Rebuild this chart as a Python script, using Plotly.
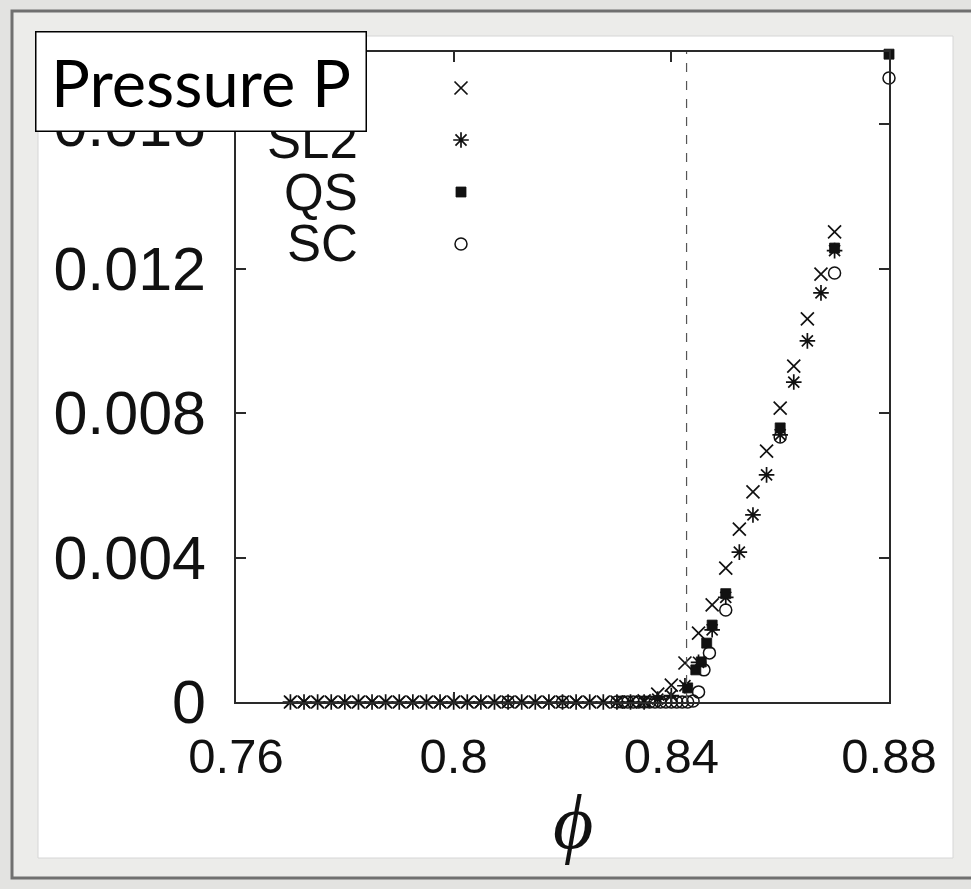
import plotly.graph_objects as go

# ---------------- data ----------------
x_ticks = [0.76, 0.80, 0.84, 0.88]
x_ticktext = ["0.76", "0.8", "0.84", "0.88"]
y_ticks = [0.0, 0.004, 0.008, 0.012, 0.016]
y_ticktext = ["0", "0.004", "0.008", "0.012", "0.016"]

phi_J = 0.8428

sl1_phi = [0.7700, 0.7725, 0.7750, 0.7775, 0.7800, 0.7825, 0.7850, 0.7875, 0.7900,
           0.7925, 0.7950, 0.7975, 0.8000, 0.8025, 0.8050, 0.8075, 0.8100, 0.8125,
           0.8150, 0.8175, 0.8200, 0.8225, 0.8250, 0.8275, 0.8300, 0.8325, 0.8350,
           0.8375, 0.8400, 0.8425, 0.8450, 0.8475, 0.8500, 0.8525, 0.8550, 0.8575,
           0.8600, 0.8625, 0.8650, 0.8675, 0.8700]
sl1_p = [0, 0, 0, 0, 0, 0, 0, 0, 0,
         0, 0, 0, 0, 0, 0, 0, 0, 0,
         0, 0, 0, 0, 0, 0, 0, 0, 0.00003,
         0.00022, 0.00047, 0.00108, 0.00191, 0.00269, 0.00371, 0.00479, 0.00582, 0.00695,
         0.00814, 0.00930, 0.01061, 0.01185, 0.01302]

sl2_phi = [0.7700, 0.7725, 0.7750, 0.7775, 0.7800, 0.7825, 0.7850, 0.7875, 0.7900,
           0.7925, 0.7950, 0.7975, 0.8000, 0.8025, 0.8050, 0.8075, 0.8100, 0.8125,
           0.8150, 0.8175, 0.8200, 0.8225, 0.8250, 0.8275, 0.8300, 0.8325, 0.8350,
           0.8375, 0.8400, 0.8425, 0.8450, 0.8475, 0.8500, 0.8525, 0.8550, 0.8575,
           0.8600, 0.8625, 0.8650, 0.8675, 0.8700]
sl2_p = [0, 0, 0, 0, 0, 0, 0, 0, 0,
         0, 0, 0, 0, 0, 0, 0, 0, 0,
         0, 0, 0, 0, 0, 0, 0, 0, 0,
         0.00008, 0.00018, 0.00045, 0.00110, 0.00200, 0.00290, 0.00415, 0.00518, 0.00629,
         0.00740, 0.00886, 0.01000, 0.01133, 0.01250]

qs_phi = [0.8430, 0.8445, 0.8455, 0.8465, 0.8475, 0.8500, 0.8600, 0.8700, 0.8800]
qs_p = [0.00039, 0.00089, 0.00111, 0.00163, 0.00213, 0.00300, 0.00759, 0.01257, 0.01794]

sc_phi = [0.810, 0.820, 0.830, 0.831, 0.832, 0.833, 0.834, 0.835, 0.836, 0.837,
          0.838, 0.839, 0.840, 0.841, 0.842, 0.843, 0.844, 0.845, 0.846, 0.847,
          0.850, 0.860, 0.870, 0.880]
sc_p = [0, 0, 0, 0, 0, 0, 0, 0, 0, 0,
        0, 0, 0, 0, 0, 0, 0.00003, 0.00028, 0.00089, 0.00136,
        0.00255, 0.00734, 0.01188, 0.01728]

series_names = ["SL1", "SL2", "QS", "SC"]

# ---------------- layout helpers (pixel -> paper) ----------------
W, H = 971, 889
L, R, T, B = 236, 889, 52, 702


def px_x(px):
    return (px - L) / (R - L)


def px_y(py):
    return (B - py) / (B - T)


ink = "#111111"
axis_col = "#2a2a2a"
sans = "Liberation Sans, Arial, sans-serif"

styles = {
    "SL1": dict(symbol="x-thin-open", size=13, line=dict(width=1.7, color=ink), color=ink),
    "SL2": dict(symbol="asterisk-open", size=13, line=dict(width=1.7, color=ink), color=ink),
    "QS": dict(symbol="square", size=10, line=dict(width=0.8, color=ink), color=ink),
    "SC": dict(symbol="circle-open", size=12, line=dict(width=1.5, color=ink), color=ink),
}

fig = go.Figure()
for name, xs, ys in [("SL1", sl1_phi, sl1_p), ("SL2", sl2_phi, sl2_p),
                     ("QS", qs_phi, qs_p), ("SC", sc_phi, sc_p)]:
    fig.add_trace(go.Scatter(x=xs, y=ys, mode="markers", name=name,
                             marker=styles[name], cliponaxis=False, showlegend=False))

# hand-drawn key (gnuplot style: label, then symbol)
key_x_px = 461
key_text_px = 360
key_rows_px = [88, 140, 192, 244]
for name, row in zip(series_names, key_rows_px):
    fig.add_trace(go.Scatter(x=[px_x(key_x_px)], y=[px_y(row)], mode="markers",
                             marker=styles[name], xaxis="x2", yaxis="y2",
                             cliponaxis=False, showlegend=False, hoverinfo="skip"))

annotations = []
for name, row in zip(series_names, key_rows_px):
    annotations.append(dict(text=name, xref="paper", yref="paper",
                            x=px_x(key_text_px), y=px_y(row), xanchor="right", yanchor="middle",
                            showarrow=False, font=dict(family=sans, size=51, color=ink)))

# x-axis symbol
annotations.append(dict(text="<i>ϕ</i>", xref="paper", yref="paper",
                        x=px_x(573), y=px_y(821), xanchor="center", yanchor="middle",
                        showarrow=False,
                        font=dict(family="Liberation Serif, serif", size=78, color=ink)))

# the "Pressure P" label box, drawn last so it covers what lies under it
box_l, box_r, box_t, box_b = 35, 367, 31, 132
annotations.append(dict(text="Pressure P", xref="paper", yref="paper",
                        x=px_x((box_l + box_r) / 2), y=px_y((box_t + box_b) / 2),
                        xanchor="center", yanchor="middle", showarrow=False,
                        width=box_r - box_l - 3, height=box_b - box_t - 3,
                        bgcolor="white", bordercolor="#000000", borderwidth=1.5, borderpad=0,
                        font=dict(family="Lato, 'Open Sans', sans-serif", size=65, color="#000000")))

shapes = [
    # outer grey frame
    dict(type="rect", xref="paper", yref="paper", layer="below",
         x0=px_x(12), x1=px_x(990), y0=px_y(878), y1=px_y(11),
         fillcolor="#ececea", line=dict(color="#707070", width=3)),
    # white panel
    dict(type="rect", xref="paper", yref="paper", layer="below",
         x0=px_x(38), x1=px_x(953), y0=px_y(858), y1=px_y(36),
         fillcolor="#ffffff", line=dict(color="#d6d6d6", width=1)),
    # jamming point
    dict(type="line", xref="x", yref="y domain", x0=phi_J, x1=phi_J, y0=0, y1=1,
         line=dict(color="#555555", width=1.2, dash="dash")),
]

fig.update_layout(
    width=W, height=H,
    margin=dict(l=L, r=W - R, t=T, b=H - B),
    paper_bgcolor="#e3e3e1",
    plot_bgcolor="rgba(0,0,0,0)",
    showlegend=False,
    xaxis=dict(range=[0.76, 0.88], tickvals=x_ticks, ticktext=x_ticktext,
               showline=True, linecolor=axis_col, linewidth=1.5, mirror="ticks",
               ticks="inside", ticklen=10, tickwidth=1.5, tickcolor=axis_col,
               showgrid=False, zeroline=False, ticklabelstandoff=10,
               tickfont=dict(family=sans, size=49, color=ink)),
    yaxis=dict(range=[0, 0.018], tickvals=y_ticks, ticktext=y_ticktext,
               showline=True, linecolor=axis_col, linewidth=1.5, mirror="ticks",
               ticks="inside", ticklen=10, tickwidth=1.5, tickcolor=axis_col,
               showgrid=False, zeroline=False, ticklabelstandoff=16,
               tickfont=dict(family=sans, size=61, color=ink)),
    xaxis2=dict(range=[0, 1], overlaying="x", visible=False, fixedrange=True),
    yaxis2=dict(range=[0, 1], overlaying="y", visible=False, fixedrange=True),
    shapes=shapes,
    annotations=annotations,
)

fig.write_html("out.html")
